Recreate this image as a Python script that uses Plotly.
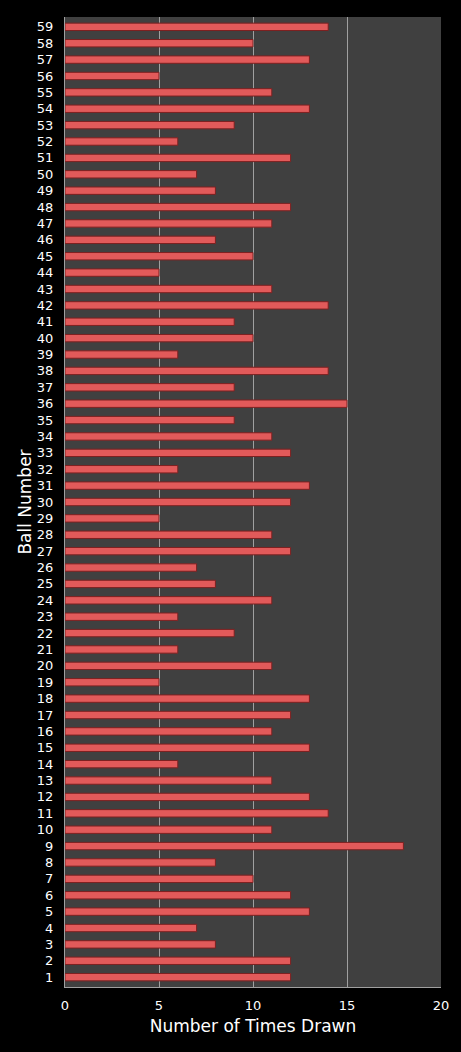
import plotly.graph_objects as go

# Ball numbers 1..59 and how often each was drawn
balls = list(range(1, 60))
times_drawn = [
    12, 12, 8, 7, 13, 12, 10, 8, 18, 11,   # 1-10
    14, 13, 11, 6, 13, 11, 12, 13, 5, 11,  # 11-20
    6, 9, 6, 11, 8, 7, 12, 11, 5, 12,      # 21-30
    13, 6, 12, 11, 9, 15, 9, 14, 6, 10,    # 31-40
    9, 14, 11, 5, 10, 8, 11, 12, 8, 7,     # 41-50
    12, 6, 9, 13, 11, 5, 13, 10, 14,       # 51-59
]
x_ticks = [0, 5, 10, 15, 20]

fig = go.Figure(
    go.Bar(
        x=times_drawn,
        y=balls,
        orientation="h",
        width=0.45,
        marker={"color": "#e25a5a", "line": {"color": "#7d2020", "width": 1}},
    )
)

fig.update_layout(
    width=461,
    height=1052,
    paper_bgcolor="#000000",
    plot_bgcolor="#404040",
    font={"family": "DejaVu Sans", "color": "#ffffff", "size": 13},
    margin={"l": 65, "r": 20, "t": 17, "b": 65},
    showlegend=False,
)
fig.update_xaxes(
    range=[0, 20],
    tickvals=x_ticks,
    showgrid=True,
    gridcolor="#a0a0a0",
    gridwidth=1,
    zeroline=False,
    showline=True,
    linecolor="#a0a0a0",
    ticks="",
    ticklabelstandoff=6,
    title={"text": "Number of Times Drawn", "font": {"size": 17}, "standoff": 8},
)
fig.update_yaxes(
    range=[0.4, 59.6],
    tickvals=balls,
    showgrid=False,
    zeroline=False,
    showline=True,
    linecolor="#a0a0a0",
    ticks="",
    ticklabelstandoff=8,
    title={"text": "Ball Number", "font": {"size": 17}, "standoff": 0},
)

# drop the default body margin so the chart sits flush in the window
_no_margin_css = (
    "var s=document.createElement('style');"
    "s.textContent='html,body{margin:0;padding:0;background:#000}';"
    "document.head.appendChild(s);"
)
fig.write_html(
    "out.html",
    config={"displayModeBar": False},
    post_script=_no_margin_css,
)
